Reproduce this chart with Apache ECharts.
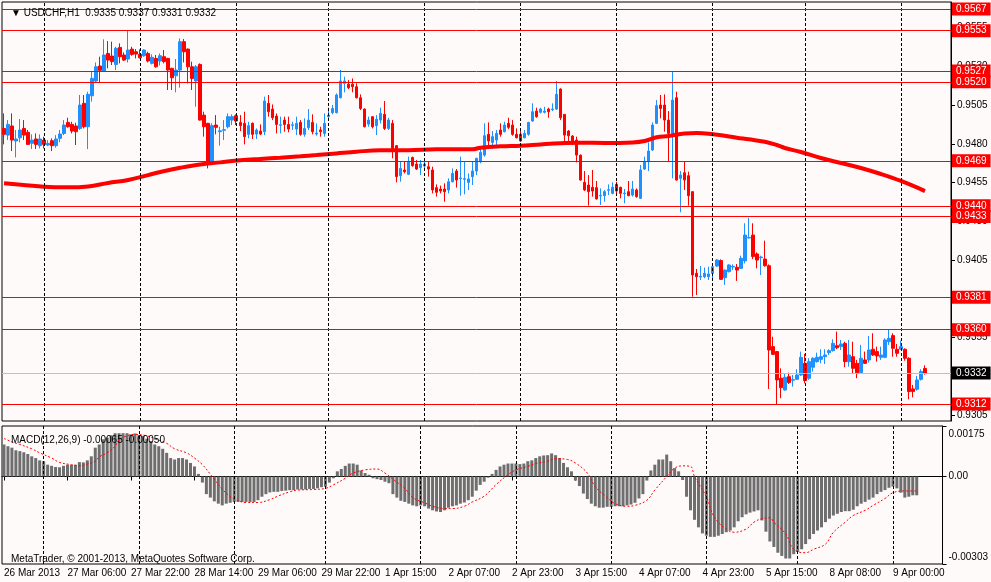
<!DOCTYPE html>
<html>
<head>
<meta charset="utf-8">
<title>USDCHF,H1</title>
<script src="https://cdn.jsdelivr.net/npm/echarts@6.0.0/dist/echarts.min.js"></script>
<style>
    html, body { margin: 0; padding: 0; background: #fffafa; }
    #chart { width: 991px; height: 582px; }
</style>
</head>
<body>
<div id="chart"></div>
<script>
// sessions on the chart: day, first hour, last hour (last day padded with empty bars)
var sessions = [
    ['26 Mar', 14, 23], ['27 Mar', 0, 23], ['28 Mar', 0, 23], ['29 Mar', 0, 22],
    ['1 Apr', 0, 23], ['2 Apr', 0, 23], ['3 Apr', 0, 23], ['4 Apr', 0, 23],
    ['5 Apr', 0, 22], ['8 Apr', 0, 23], ['9 Apr', 0, 12]
];

var tickIdx = [0, 16, 32, 48, 64, 80, 96, 112, 128, 144, 160, 176, 192, 208, 224];
var tickText = ['26 Mar 2013', '27 Mar 06:00', '27 Mar 22:00', '28 Mar 14:00', '29 Mar 06:00',
    '29 Mar 22:00', '1 Apr 15:00', '2 Apr 07:00', '2 Apr 23:00', '3 Apr 15:00', '4 Apr 07:00',
    '4 Apr 23:00', '5 Apr 15:00', '8 Apr 08:00', '9 Apr 00:00'];

// day separators (bar index of 00:00)
var daySeps = [10, 34, 58, 81, 105, 129, 153, 177, 200, 224];

var priceTicks = [0.9305, 0.9330, 0.9355, 0.9380, 0.9405, 0.9430, 0.9455, 0.9480, 0.9505, 0.9530, 0.9555];
var macdTicks = [-0.00303, 0, 0.00175];
var levels = [0.9567, 0.9553, 0.9527, 0.9520, 0.9469, 0.9440, 0.9433, 0.9381, 0.9360, 0.9312];
var lastPrice = 0.9332;

var opens = [
    0.94899,0.94856,0.94915,0.94818,0.94839,0.94899,0.94874,0.94803,0.94831,0.94788,
    0.94824,0.94792,0.94820,0.94788,0.94835,0.94867,0.94938,0.94925,0.94915,0.94899,
    0.95061,0.94910,0.95110,0.95205,0.95302,0.95269,0.95383,0.95366,0.95312,0.95422,
    0.95373,0.95347,0.95411,0.95394,0.95377,0.95368,0.95383,0.95319,0.95351,0.95334,
    0.95362,0.95351,0.95287,0.95239,0.95276,0.95459,0.95411,0.95297,0.95205,0.95312,
    0.94985,0.94932,0.94680,0.94921,0.94878,0.94887,0.94910,0.94953,0.94981,0.94938,
    0.94932,0.94861,0.94932,0.94863,0.94882,0.94878,0.95061,0.95024,0.94979,0.94919,
    0.94953,0.94925,0.94919,0.94895,0.94938,0.94861,0.94904,0.94938,0.94863,0.94889,
    0.94867,0.94975,0.95001,0.95001,0.95097,0.95190,0.95185,0.95185,0.95168,0.95097,
    0.95024,0.94927,0.94975,0.94917,0.94953,0.94990,0.94899,0.94932,0.94788,0.94594,
    0.94631,0.94603,0.94712,0.94669,0.94646,0.94656,0.94652,0.94631,0.94517,0.94508,
    0.94508,0.94502,0.94555,0.94624,0.94575,0.94571,0.94551,0.94588,0.94624,0.94684,
    0.94727,0.94861,0.94809,0.94824,0.94889,0.94878,0.94932,0.94921,0.94861,0.94861,
    0.94839,0.94861,0.94947,0.95011,0.95003,0.95003,0.95024,0.95020,0.95024,0.95153,
    0.94990,0.94882,0.94850,0.94824,0.94727,0.94551,0.94534,0.94519,0.94517,0.94463,
    0.94465,0.94500,0.94480,0.94538,0.94519,0.94478,0.94491,0.94469,0.94502,0.94448,
    0.94637,0.94684,0.94760,0.94932,0.95050,0.95050,0.94953,0.94867,0.95097,0.94577,
    0.94613,0.94594,0.94491,0.93964,0.93940,0.93942,0.93942,0.93964,0.94011,0.94046,
    0.93936,0.93975,0.94005,0.94003,0.93996,0.94044,0.94192,0.94211,0.94089,0.94065,
    0.94056,0.94013,0.93491,0.93459,0.93287,0.93211,0.93297,0.93274,0.93280,0.93308,
    0.93383,0.93287,0.93358,0.93394,0.93409,0.93426,0.93452,0.93465,0.93497,0.93491,
    0.93512,0.93394,0.93426,0.93383,0.93323,0.93405,0.93405,0.93474,0.93459,0.93422,
    0.93422,0.93523,0.93562,0.93474,0.93474,0.93474,0.93416,0.93218,0.93216,0.93280,
    0.93350
];
var highs = [
    0.94996,0.94953,0.94996,0.94889,0.94960,0.94953,0.94889,0.94861,0.94867,0.94861,
    0.94846,0.94824,0.94835,0.94856,0.94889,0.94953,0.94968,0.94942,0.94936,0.95115,
    0.95115,0.95136,0.95265,0.95325,0.95362,0.95474,0.95463,0.95459,0.95426,0.95448,
    0.95390,0.95534,0.95426,0.95411,0.95409,0.95409,0.95394,0.95377,0.95373,0.95383,
    0.95405,0.95355,0.95290,0.95347,0.95480,0.95476,0.95415,0.95330,0.95308,0.95319,
    0.95007,0.94935,0.94932,0.94985,0.94910,0.94953,0.94996,0.94990,0.94990,0.94985,
    0.95007,0.94942,0.94938,0.94899,0.94925,0.95104,0.95115,0.95054,0.94996,0.94975,
    0.94975,0.94975,0.94942,0.94975,0.94953,0.94964,0.95024,0.94990,0.94932,0.94910,
    0.94996,0.95033,0.95050,0.95125,0.95276,0.95233,0.95211,0.95222,0.95190,0.95119,
    0.95028,0.94975,0.94978,0.94985,0.95033,0.95076,0.94968,0.94953,0.94792,0.94684,
    0.94684,0.94717,0.94717,0.94695,0.94695,0.94684,0.94684,0.94652,0.94538,0.94530,
    0.94545,0.94577,0.94641,0.94637,0.94717,0.94684,0.94609,0.94684,0.94710,0.94781,
    0.94932,0.94938,0.94882,0.94889,0.94932,0.94942,0.94968,0.94953,0.94899,0.94889,
    0.94889,0.94942,0.95061,0.95033,0.95033,0.95039,0.95033,0.95061,0.95205,0.95158,
    0.94992,0.94889,0.94856,0.94846,0.94730,0.94624,0.94598,0.94631,0.94560,0.94512,
    0.94502,0.94538,0.94551,0.94555,0.94523,0.94508,0.94560,0.94560,0.94512,0.94663,
    0.94717,0.94809,0.94938,0.95082,0.95115,0.95119,0.95011,0.95265,0.95136,0.94624,
    0.94684,0.94620,0.94495,0.93992,0.94011,0.94001,0.94007,0.94018,0.94056,0.94054,
    0.93988,0.94022,0.94022,0.94024,0.94078,0.94287,0.94323,0.94287,0.94099,0.94078,
    0.94175,0.94022,0.93555,0.93463,0.93351,0.93319,0.93323,0.93308,0.93345,0.93459,
    0.93444,0.93416,0.93422,0.93452,0.93474,0.93474,0.93474,0.93538,0.93588,0.93534,
    0.93523,0.93534,0.93523,0.93405,0.93502,0.93459,0.93560,0.93577,0.93491,0.93491,
    0.93545,0.93603,0.93577,0.93508,0.93530,0.93480,0.93422,0.93244,0.93302,0.93345,
    0.93370
];
var lows = [
    0.94796,0.94824,0.94753,0.94712,0.94809,0.94824,0.94792,0.94766,0.94766,0.94770,
    0.94770,0.94785,0.94753,0.94775,0.94809,0.94856,0.94904,0.94867,0.94792,0.94889,
    0.94899,0.94766,0.95072,0.95196,0.95196,0.95265,0.95287,0.95308,0.95276,0.95319,
    0.95334,0.95325,0.95368,0.95351,0.95351,0.95362,0.95325,0.95312,0.95291,0.95305,
    0.95319,0.95147,0.95147,0.95132,0.95162,0.95325,0.95190,0.95147,0.95039,0.94950,
    0.94846,0.94641,0.94678,0.94861,0.94788,0.94824,0.94899,0.94921,0.94921,0.94882,
    0.94796,0.94835,0.94831,0.94831,0.94856,0.94856,0.94975,0.94953,0.94867,0.94867,
    0.94878,0.94874,0.94889,0.94856,0.94852,0.94846,0.94889,0.94861,0.94852,0.94846,
    0.94846,0.94953,0.94990,0.94996,0.95093,0.95132,0.95153,0.95132,0.95093,0.95018,
    0.94905,0.94910,0.94899,0.94856,0.94932,0.94889,0.94889,0.94706,0.94551,0.94555,
    0.94609,0.94598,0.94652,0.94631,0.94598,0.94624,0.94588,0.94480,0.94459,0.94480,
    0.94426,0.94480,0.94551,0.94517,0.94465,0.94474,0.94502,0.94534,0.94598,0.94674,
    0.94717,0.94766,0.94766,0.94781,0.94846,0.94874,0.94895,0.94852,0.94835,0.94813,
    0.94835,0.94852,0.94942,0.94968,0.94996,0.94996,0.94968,0.95011,0.95018,0.94953,
    0.94818,0.94796,0.94792,0.94680,0.94562,0.94495,0.94401,0.94459,0.94440,0.94405,
    0.94426,0.94469,0.94474,0.94469,0.94448,0.94416,0.94462,0.94459,0.94452,0.94445,
    0.94631,0.94624,0.94753,0.94928,0.94964,0.94878,0.94689,0.94577,0.94562,0.94358,
    0.94502,0.94401,0.93813,0.93824,0.93921,0.93932,0.93921,0.93932,0.94007,0.93921,
    0.93889,0.93970,0.93985,0.93915,0.93992,0.94028,0.94190,0.94056,0.93996,0.93953,
    0.94007,0.93218,0.93437,0.93115,0.93158,0.93207,0.93250,0.93233,0.93276,0.93302,
    0.93254,0.93276,0.93330,0.93388,0.93383,0.93379,0.93437,0.93459,0.93474,0.93469,
    0.93358,0.93362,0.93319,0.93287,0.93320,0.93379,0.93388,0.93431,0.93394,0.93405,
    0.93416,0.93502,0.93426,0.93426,0.93469,0.93400,0.93151,0.93164,0.93207,0.93272,
    0.93310
];
var closes = [
    0.94861,0.94925,0.94824,0.94831,0.94889,0.94856,0.94796,0.94824,0.94796,0.94831,
    0.94796,0.94803,0.94788,0.94831,0.94863,0.94921,0.94910,0.94882,0.94878,0.95050,
    0.94910,0.95119,0.95222,0.95297,0.95274,0.95373,0.95340,0.95330,0.95416,0.95362,
    0.95340,0.95405,0.95377,0.95379,0.95355,0.95405,0.95334,0.95358,0.95297,0.95368,
    0.95330,0.95276,0.95226,0.95276,0.95459,0.95394,0.95297,0.95222,0.95297,0.94953,
    0.94910,0.94674,0.94917,0.94906,0.94884,0.94891,0.94975,0.94975,0.94947,0.94917,
    0.94846,0.94917,0.94861,0.94889,0.94863,0.95076,0.95007,0.94968,0.94925,0.94923,
    0.94925,0.94895,0.94923,0.94932,0.94861,0.94899,0.94953,0.94878,0.94869,0.94878,
    0.94932,0.94985,0.95028,0.95115,0.95205,0.95205,0.95162,0.95168,0.95097,0.95028,
    0.94910,0.94953,0.94910,0.94958,0.94996,0.94899,0.94953,0.94770,0.94588,0.94641,
    0.94620,0.94684,0.94659,0.94637,0.94669,0.94669,0.94637,0.94502,0.94487,0.94495,
    0.94491,0.94555,0.94609,0.94566,0.94579,0.94575,0.94573,0.94624,0.94706,0.94745,
    0.94852,0.94818,0.94846,0.94867,0.94861,0.94921,0.94906,0.94861,0.94839,0.94818,
    0.94867,0.94938,0.95007,0.94975,0.95024,0.95011,0.95007,0.95024,0.95119,0.94968,
    0.94856,0.94852,0.94803,0.94727,0.94566,0.94502,0.94491,0.94495,0.94444,0.94467,
    0.94491,0.94504,0.94519,0.94495,0.94480,0.94482,0.94465,0.94508,0.94459,0.94631,
    0.94684,0.94753,0.94921,0.95046,0.95028,0.94953,0.94867,0.95082,0.94566,0.94598,
    0.94566,0.94465,0.93953,0.93942,0.93945,0.93964,0.93960,0.94007,0.94050,0.93925,
    0.93985,0.94018,0.94009,0.93985,0.94061,0.94211,0.94196,0.94072,0.94050,0.94069,
    0.94013,0.93469,0.93441,0.93276,0.93226,0.93293,0.93259,0.93278,0.93308,0.93422,
    0.93272,0.93394,0.93416,0.93422,0.93426,0.93437,0.93465,0.93512,0.93484,0.93508,
    0.93394,0.93437,0.93351,0.93323,0.93416,0.93383,0.93469,0.93437,0.93431,0.93437,
    0.93534,0.93545,0.93480,0.93448,0.93491,0.93416,0.93201,0.93201,0.93276,0.93330,
    0.93320
];

// moving average, read at sample bars
var maIdx = [0, 10, 16, 21, 26, 31, 36, 39, 44, 49, 54, 59, 64, 69, 74, 78, 83, 88, 94, 101,
    108, 117, 119, 124, 129, 134, 139, 144, 150, 157, 160, 163, 166, 170, 173, 176, 180, 183,
    186, 190, 193, 195, 199, 204, 209, 214, 219, 224, 230];
var maVal = [0.94545, 0.94523, 0.94519, 0.94525, 0.94547, 0.94566, 0.94598, 0.94618, 0.94645,
    0.94667, 0.94680, 0.94693, 0.94702, 0.94710, 0.94719, 0.94727, 0.94738, 0.94749, 0.94758,
    0.94758, 0.94764, 0.94764, 0.94775, 0.94784, 0.94788, 0.94796, 0.94803, 0.94807, 0.94805,
    0.94809, 0.94818, 0.94842, 0.94850, 0.94867, 0.94869, 0.94865, 0.94852, 0.94839, 0.94829,
    0.94813, 0.94792, 0.94773, 0.94747, 0.94708, 0.94676, 0.94644, 0.94605, 0.94560, 0.94495];

// MACD(12,26,9) main values, one per bar
var macd = [
    0.00111,0.00105,0.00100,0.00091,0.00088,0.00084,0.00078,0.00070,0.00064,0.00056,
    0.00053,0.00041,0.00037,0.00033,0.00032,0.00037,0.00041,0.00040,0.00041,0.00050,
    0.00049,0.00056,0.00070,0.00100,0.00111,0.00129,0.00135,0.00143,0.00150,0.00150,
    0.00150,0.00150,0.00146,0.00149,0.00143,0.00141,0.00131,0.00123,0.00111,0.00105,
    0.00096,0.00082,0.00064,0.00059,0.00064,0.00064,0.00059,0.00047,0.00035,0.00009,
    -0.00021,-0.00061,-0.00073,-0.00086,-0.00094,-0.00100,-0.00094,-0.00091,-0.00088,-0.00088,
    -0.00088,-0.00088,-0.00088,-0.00088,-0.00082,-0.00070,-0.00061,-0.00055,-0.00053,-0.00053,
    -0.00050,-0.00049,-0.00047,-0.00047,-0.00045,-0.00045,-0.00045,-0.00043,-0.00043,-0.00041,
    -0.00037,-0.00035,-0.00021,-0.00006,0.00018,0.00026,0.00037,0.00045,0.00045,0.00041,
    0.00021,0.00012,0.00006,-0.00006,-0.00009,-0.00012,-0.00018,-0.00023,-0.00061,-0.00073,
    -0.00084,-0.00088,-0.00094,-0.00100,-0.00103,-0.00100,-0.00103,-0.00111,-0.00117,-0.00121,
    -0.00123,-0.00117,-0.00108,-0.00103,-0.00100,-0.00094,-0.00090,-0.00082,-0.00070,-0.00049,
    -0.00029,-0.00018,-0.00004,0.00009,0.00023,0.00035,0.00041,0.00045,0.00045,0.00045,
    0.00043,0.00045,0.00053,0.00056,0.00064,0.00070,0.00073,0.00074,0.00080,0.00074,
    0.00064,0.00047,0.00032,0.00018,-0.00014,-0.00033,-0.00059,-0.00078,-0.00094,-0.00103,
    -0.00108,-0.00108,-0.00105,-0.00105,-0.00103,-0.00103,-0.00103,-0.00100,-0.00097,-0.00091,
    -0.00076,-0.00061,-0.00014,0.00021,0.00041,0.00059,0.00059,0.00076,0.00053,0.00029,
    0.00018,-0.00012,-0.00070,-0.00117,-0.00150,-0.00176,-0.00197,-0.00205,-0.00209,-0.00209,
    -0.00205,-0.00199,-0.00193,-0.00187,-0.00176,-0.00155,-0.00141,-0.00131,-0.00125,-0.00121,
    -0.00117,-0.00152,-0.00191,-0.00225,-0.00244,-0.00264,-0.00275,-0.00284,-0.00284,-0.00269,
    -0.00261,-0.00252,-0.00234,-0.00217,-0.00199,-0.00187,-0.00176,-0.00158,-0.00146,-0.00135,
    -0.00129,-0.00123,-0.00120,-0.00120,-0.00115,-0.00103,-0.00094,-0.00088,-0.00080,-0.00073,
    -0.00061,-0.00053,-0.00047,-0.00039,-0.00035,-0.00041,-0.00056,-0.00073,-0.00070,-0.00065,
    -0.00065
];

// signal line, read at sample bars
var sigIdx = [0, 2, 4, 7, 9, 12, 14, 17, 19, 21, 23, 24, 26, 28, 29, 31, 33, 36, 38, 41, 43, 46,
    48, 50, 52, 53, 55, 57, 58, 61, 64, 67, 69, 72, 74, 78, 81, 83, 86, 88, 91, 94, 96, 98, 101,
    103, 106, 108, 111, 113, 116, 118, 121, 124, 127, 129, 132, 134, 137, 139, 142, 144, 147,
    149, 152, 154, 157, 159, 162, 164, 167, 169, 171, 173, 174, 177, 179, 182, 184, 187, 189,
    191, 193, 194, 197, 199, 202, 204, 207, 209, 212, 214, 217, 219, 222, 224, 227, 230];
var sigVal = [0.00132, 0.00120, 0.00111, 0.00096, 0.00082, 0.00064, 0.00049, 0.00041, 0.00037,
    0.00043, 0.00053, 0.00068, 0.00082, 0.00105, 0.00127, 0.00141, 0.00146, 0.00141, 0.00131,
    0.00115, 0.00096, 0.00082, 0.00064, 0.00041, 0.00008, -0.00009, -0.00044, -0.00069, -0.00078,
    -0.00090, -0.00090, -0.00080, -0.00068, -0.00053, -0.00047, -0.00045, -0.00041, -0.00029,
    -0.00006, 0.00012, 0.00023, 0.00026, 0.00012, -0.00009, -0.00041, -0.00073, -0.00091,
    -0.00103, -0.00111, -0.00111, -0.00103, -0.00088, -0.00068, -0.00028, 0.00006, 0.00023,
    0.00035, 0.00045, 0.00053, 0.00062, 0.00059, 0.00047, 0.00012, -0.00035, -0.00073, -0.00094,
    -0.00103, -0.00100, -0.00082, -0.00047, 0.00000, 0.00029, 0.00037, 0.00035, 0.00000,
    -0.00070, -0.00141, -0.00182, -0.00193, -0.00182, -0.00158, -0.00146, -0.00143, -0.00158,
    -0.00199, -0.00252, -0.00264, -0.00252, -0.00234, -0.00193, -0.00158, -0.00135, -0.00117,
    -0.00100, -0.00076, -0.00056, -0.00050, -0.00050];

var FONT = 'Tahoma, "Liberation Sans", Arial, sans-serif';

function pad2(n) {
    return n < 10 ? '0' + n : '' + n;
}

var categories = [];
sessions.forEach(function(s) {
    for (var h = s[1]; h <= s[2]; h++) {
        categories.push(s[0] + ' ' + pad2(h) + ':00');
    }
});

var candles = opens.map(function(o, i) {
    return [o, closes[i], lows[i], highs[i]];
});
var maData = maIdx.map(function(idx, i) { return [idx, maVal[i]]; });
var sigData = sigIdx.map(function(idx, i) { return [idx, sigVal[i]]; });

var sepLines = function() {
    return daySeps.map(function(idx) {
        return {
            xAxis: idx,
            label: { show: false },
            lineStyle: { color: '#000', type: [3, 2], width: 1 }
        };
    });
};

// price level lines with boxed labels on the price scale
var levelLine = function(v, lineColor, boxColor) {
    return {
        yAxis: v,
        lineStyle: { color: lineColor, type: 'solid', width: 1 },
        label: {
            show: true, position: 'end', distance: 1,
            formatter: v.toFixed(4),
            color: '#fff', backgroundColor: boxColor,
            fontFamily: FONT, fontSize: 10, padding: [2, 4, 1, 4]
        }
    };
};
var levelLines = levels.map(function(v) { return levelLine(v, '#ff0000', '#ff0000'); });
levelLines.push(levelLine(lastPrice, '#c0c0c0', '#000000'));

var isTick = function(index) {
    return tickIdx.indexOf(index) >= 0;
};

var chart = echarts.init(document.getElementById('chart'));

chart.setOption({
    animation: false,
    backgroundColor: '#fffafa',
    textStyle: { fontFamily: FONT },
    title: [{
        text: '\u25BC USDCHF,H1  0.9335 0.9337 0.9331 0.9332',
        left: 6, top: 3,
        textStyle: { fontFamily: FONT, fontSize: 10, fontWeight: 'normal', color: '#000' }
    }, {
        text: 'MACD(12,26,9) -0.00065 -0.00050',
        left: 6, top: 430,
        textStyle: { fontFamily: FONT, fontSize: 10, fontWeight: 'normal', color: '#000' }
    }, {
        text: 'MetaTrader, \u00A9 2001-2013, MetaQuotes Software Corp.',
        left: 6, top: 549,
        textStyle: { fontFamily: FONT, fontSize: 10, fontWeight: 'normal', color: '#000' }
    }],
    grid: [{
        left: 2, right: 40, top: 2, height: 419,
        show: true, borderColor: '#000', borderWidth: 1, backgroundColor: 'transparent'
    }, {
        left: 2, right: 40, top: 426, height: 138,
        show: true, borderColor: '#000', borderWidth: 1, backgroundColor: 'transparent'
    }],
    xAxis: [{
        type: 'category', gridIndex: 0, data: categories, boundaryGap: true,
        axisLine: { show: false }, axisTick: { show: false }, axisLabel: { show: false },
        splitLine: { show: false }
    }, {
        type: 'category', gridIndex: 1, data: categories, boundaryGap: true,
        axisLine: { show: true, lineStyle: { color: '#000' } },
        axisTick: {
            show: true, alignWithLabel: true, length: 4, interval: isTick,
            lineStyle: { color: '#000' }
        },
        axisLabel: {
            show: true, interval: isTick, align: 'left', margin: 4,
            color: '#000', fontFamily: FONT, fontSize: 10,
            formatter: function(value, index) {
                var k = tickIdx.indexOf(index);
                return k >= 0 ? tickText[k] : '';
            }
        },
        splitLine: { show: false }
    }],
    yAxis: [{
        type: 'value', gridIndex: 0, position: 'right',
        min: 0.93011, max: 0.95715, scale: true,
        axisLine: { show: true, lineStyle: { color: '#000' } },
        axisTick: { show: true, length: 4, customValues: priceTicks, lineStyle: { color: '#000' } },
        axisLabel: {
            show: true, customValues: priceTicks, margin: 6,
            color: '#000', fontFamily: FONT, fontSize: 10,
            formatter: function(v) { return v.toFixed(4); }
        },
        splitLine: { show: false }
    }, {
        type: 'value', gridIndex: 1, position: 'right',
        min: -0.00303, max: 0.00175,
        axisLine: { show: true, lineStyle: { color: '#000' } },
        axisTick: { show: true, length: 4, customValues: macdTicks, lineStyle: { color: '#000' } },
        axisLabel: {
            show: true, customValues: macdTicks, margin: 6,
            color: '#000', fontFamily: FONT, fontSize: 10,
            formatter: function(v) {
                if (v === 0) return '0.00';
                return v > 0 ? '{top|' + v.toFixed(5) + '}' : '{bot|' + v.toFixed(5) + '}';
            },
            rich: {
                top: { fontFamily: FONT, fontSize: 10, color: '#000', padding: [16, 0, 0, 0] },
                bot: { fontFamily: FONT, fontSize: 10, color: '#000', padding: [0, 0, 14, 0] }
            }
        },
        splitLine: { show: false }
    }],
    series: [{
        name: 'USDCHF',
        type: 'candlestick',
        xAxisIndex: 0, yAxisIndex: 0,
        data: candles,
        barWidth: 3,
        itemStyle: {
            color: '#1e90ff', color0: '#ff0000',
            borderColor: '#1e90ff', borderColor0: '#ff0000',
            borderColorDoji: '#1e90ff', borderWidth: 1
        },
        markLine: {
            silent: true, symbol: ['none', 'none'], animation: false,
            emphasis: { disabled: true },
            data: sepLines()
        },
        z: 3
    }, {
        name: 'MA',
        type: 'line',
        xAxisIndex: 0, yAxisIndex: 0,
        data: maData,
        smooth: 0.4, showSymbol: false, silent: true,
        lineStyle: { color: '#ff0000', width: 4 },
        markLine: {
            silent: true, symbol: ['none', 'none'], animation: false,
            precision: 5,
            emphasis: { disabled: true },
            data: levelLines
        },
        z: 4
    }, {
        name: 'MACD',
        type: 'bar',
        xAxisIndex: 1, yAxisIndex: 1,
        data: macd,
        barWidth: 3,
        itemStyle: { color: '#6e6e6e' },
        silent: true,
        markLine: {
            silent: true, symbol: ['none', 'none'], animation: false,
            emphasis: { disabled: true },
            data: sepLines()
        }
    }, {
        name: 'Signal',
        type: 'line',
        xAxisIndex: 1, yAxisIndex: 1,
        data: sigData,
        smooth: 0.4, showSymbol: false, silent: true,
        lineStyle: { color: '#ff0000', width: 1, type: [2, 2] },
        z: 4
    }]
});
</script>
</body>
</html>
